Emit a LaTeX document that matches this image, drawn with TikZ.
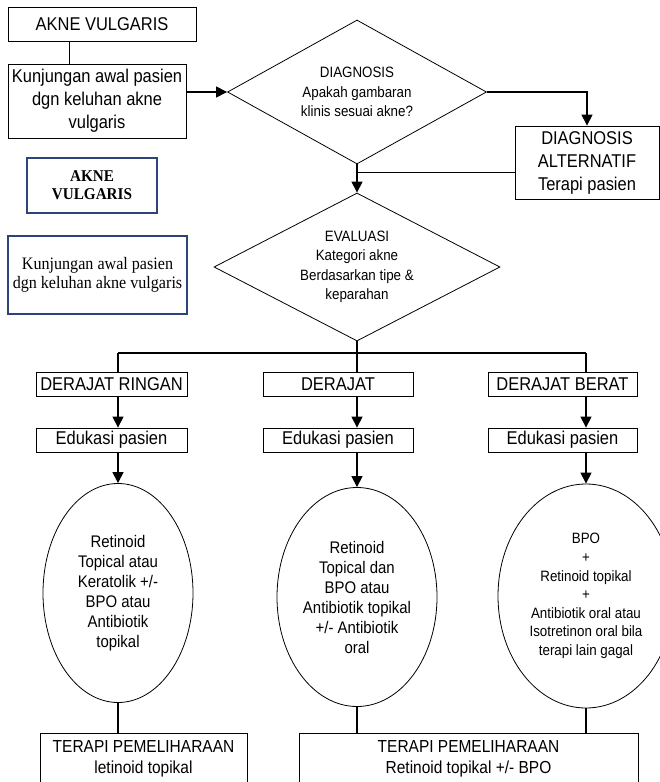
\documentclass[tikz,border=0pt]{standalone}
\usepackage{fontspec}
\setmainfont[FakeStretch=0.89]{Liberation Sans}
\newfontfamily\seriftext[FakeStretch=0.92]{Liberation Serif}
\usetikzlibrary{shapes.geometric,arrows.meta}
\definecolor{garisbiru}{RGB}{44,68,122}
\begin{document}
\begin{tikzpicture}[x=1pt,y=-1pt,
    every node/.style={inner sep=0pt,align=center},
    kotak/.style={draw=black,line width=0.8pt,font=\fontsize{18.5}{23}\selectfont},
    kotakbiru/.style={draw=garisbiru,line width=1.2pt,font=\seriftext\fontsize{17.5}{19}\selectfont},
    wajik/.style={draw=black,diamond,line width=0.8pt,font=\fontsize{15}{19.5}\selectfont},
    oval/.style={draw=black,ellipse,line width=0.8pt,font=\fontsize{16.8}{20}\selectfont},
    garis/.style={line width=1.1pt},
    panah/.style={garis,-{Triangle[width=11pt,length=11pt]}}]
    \useasboundingbox (0,0) rectangle (660,782);
    \node [kotak,minimum width=188,minimum height=34] (akne) at (102,24) {AKNE VULGARIS};
    \node [kotak,minimum width=178,minimum height=74] (kunjungan) at (97,101) {Kunjungan awal pasien\\dgn keluhan akne\\vulgaris};
    \node [kotakbiru,minimum width=130,minimum height=55,font=\seriftext\bfseries\fontsize{16.5}{18}\selectfont] (biru1) at (92,185.5) {AKNE\\VULGARIS};
    \node [kotakbiru,minimum width=179,minimum height=78] (biru2) at (97.5,275) {Kunjungan awal pasien\\dgn keluhan akne vulgaris};
    \node [wajik,minimum width=259,minimum height=144,aspect=1.8] (diagnosis) at (357,92) {DIAGNOSIS\\Apakah gambaran\\klinis sesuai akne?};
    \node [kotak,minimum width=144,minimum height=73] (alternatif) at (587,162.5) {DIAGNOSIS\\ALTERNATIF\\Terapi pasien};
    \node [wajik,minimum width=286,minimum height=148,aspect=1.93] (evaluasi) at (357,267) {EVALUASI\\Kategori akne\\Berdasarkan tipe \&\\keparahan};
    \node [kotak,minimum width=151,minimum height=24] (ringan) at (111.5,384) {DERAJAT RINGAN};
    \node [kotak,minimum width=150,minimum height=24] (sedang) at (338,384) {DERAJAT};
    \node [kotak,minimum width=149,minimum height=24] (berat) at (562.5,384) {DERAJAT BERAT};
    \node [kotak,minimum width=151,minimum height=24] (edu1) at (111.5,440) {Edukasi pasien};
    \node [kotak,minimum width=150,minimum height=24] (edu2) at (338,440) {Edukasi pasien};
    \node [kotak,minimum width=149,minimum height=24] (edu3) at (562.5,440) {Edukasi pasien};
    \node [oval,minimum width=150,minimum height=219] (obat1) at (118,593) {Retinoid\\Topical atau\\Keratolik +/-\\BPO atau\\Antibiotik\\topikal};
    \node [oval,minimum width=160,minimum height=219] (obat2) at (357,597) {Retinoid\\Topical dan\\BPO atau\\Antibiotik topikal\\+/- Antibiotik\\oral};
    \node [oval,minimum width=176,minimum height=224,font=\fontsize{15}{18.6}\selectfont] (obat3) at (586,596) {BPO\\+\\Retinoid topikal\\+\\Antibiotik oral atau\\Isotretinon oral bila\\terapi lain gagal};
    \node [kotak,minimum width=207,minimum height=52,font=\fontsize{17.4}{21.5}\selectfont] (terapi1) at (143.5,759) {TERAPI PEMELIHARAAN\\letinoid topikal};
    \node [kotak,minimum width=339,minimum height=52,font=\fontsize{17.4}{21.5}\selectfont] (terapi2) at (468.5,759) {TERAPI PEMELIHARAAN\\Retinoid topikal +/- BPO};
    \coordinate (cabang1) at (118,353);
    \coordinate (cabang3) at (586,353);
    \draw [garis] ([xshift=62pt]akne.south west) -- ([xshift=62pt]akne.south west |- kunjungan.north);
    \draw [panah] (kunjungan.east |- diagnosis.west) -- (diagnosis.west);
    \draw [panah] (diagnosis.east) -| (alternatif.north);
    \draw [garis] ([yshift=-10pt]alternatif.west) -- ([yshift=-10pt]alternatif.west -| diagnosis.south);
    \draw [panah] (diagnosis.south) -- (evaluasi.north);
    \draw [garis] (cabang1) -- (cabang3);
    \draw [garis] (cabang1) -- (cabang1 |- ringan.north);
    \draw [garis] (evaluasi.south) -- (evaluasi.south |- sedang.north);
    \draw [garis] (cabang3) -- (cabang3 |- berat.north);
    \draw [panah] (cabang1 |- ringan.south) -- (cabang1 |- edu1.north);
    \draw [panah] (evaluasi.south |- sedang.south) -- (evaluasi.south |- edu2.north);
    \draw [panah] (cabang3 |- berat.south) -- (cabang3 |- edu3.north);
    \draw [panah] (cabang1 |- edu1.south) -- (obat1.north);
    \draw [panah] (evaluasi.south |- edu2.south) -- (obat2.north);
    \draw [panah] (cabang3 |- edu3.south) -- (obat3.north);
    \draw [garis] (obat1.south) -- (obat1.south |- terapi1.north);
    \draw [garis] (obat2.south) -- (obat2.south |- terapi2.north);
    \draw [garis] (obat3.south) -- (obat3.south |- terapi2.north);
\end{tikzpicture}
\end{document}
